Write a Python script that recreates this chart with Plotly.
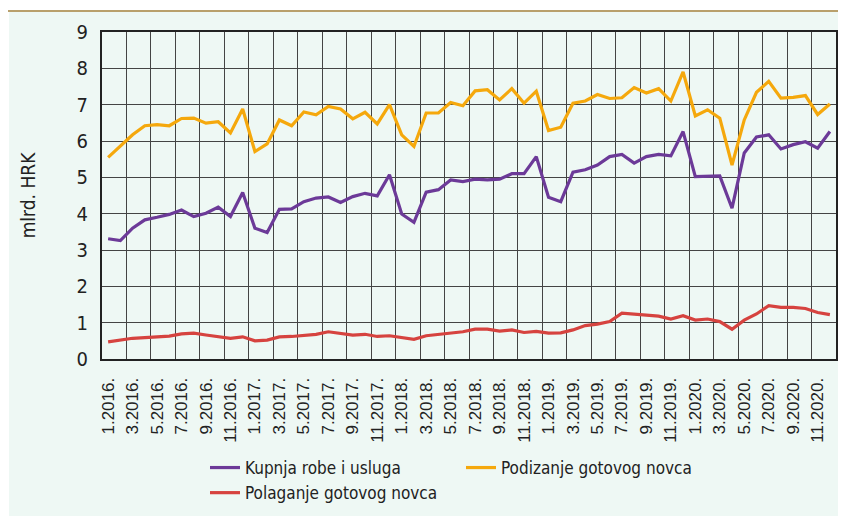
import plotly.graph_objects as go

# Monthly periods 1.2016. - 12.2020.
periods = [f"{m}.{y}." for y in range(2016, 2021) for m in range(1, 13)]
tick_labels = ["1.2016.", "3.2016.", "5.2016.", "7.2016.", "9.2016.", "11.2016.",
               "1.2017.", "3.2017.", "5.2017.", "7.2017.", "9.2017.", "11.2017.",
               "1.2018.", "3.2018.", "5.2018.", "7.2018.", "9.2018.", "11.2018.",
               "1.2019.", "3.2019.", "5.2019.", "7.2019.", "9.2019.", "11.2019.",
               "1.2020.", "3.2020.", "5.2020.", "7.2020.", "9.2020.", "11.2020."]

kupnja = [3.31, 3.26, 3.60, 3.83, 3.90, 3.98, 4.10, 3.92, 4.01, 4.18, 3.92, 4.58,
          3.60, 3.48, 4.12, 4.13, 4.33, 4.43, 4.46, 4.31, 4.47, 4.56, 4.49, 5.07,
          3.99, 3.76, 4.59, 4.66, 4.93, 4.88, 4.95, 4.93, 4.95, 5.10, 5.10, 5.57,
          4.45, 4.33, 5.14, 5.21, 5.34, 5.57, 5.63, 5.39, 5.57, 5.63, 5.59, 6.26,
          5.02, 5.02, 5.04, 4.15, 5.67, 6.11, 6.17, 5.78, 5.90, 5.98, 5.80, 6.26]

podizanje = [5.55, 5.85, 6.17, 6.42, 6.45, 6.42, 6.62, 6.63, 6.49, 6.53, 6.22, 6.88,
             5.71, 5.92, 6.58, 6.42, 6.80, 6.72, 6.95, 6.88, 6.61, 6.79, 6.47, 7.00,
             6.17, 5.85, 6.77, 6.77, 7.06, 6.97, 7.38, 7.41, 7.13, 7.44, 7.04, 7.37,
             6.29, 6.38, 7.04, 7.10, 7.28, 7.17, 7.19, 7.47, 7.32, 7.44, 7.10, 7.90,
             6.69, 6.86, 6.63, 5.34, 6.58, 7.34, 7.64, 7.18, 7.20, 7.25, 6.73, 7.02]

polaganje = [0.47, 0.52, 0.57, 0.59, 0.61, 0.63, 0.69, 0.71, 0.66, 0.61, 0.57, 0.61,
             0.50, 0.52, 0.61, 0.62, 0.66, 0.68, 0.75, 0.71, 0.66, 0.68, 0.62, 0.64,
             0.59, 0.54, 0.64, 0.68, 0.72, 0.75, 0.82, 0.82, 0.77, 0.80, 0.73, 0.76,
             0.71, 0.72, 0.80, 0.92, 0.96, 1.03, 1.26, 1.23, 1.20, 1.18, 1.10, 1.19,
             1.07, 1.10, 1.03, 0.82, 1.07, 1.24, 1.47, 1.42, 1.42, 1.39, 1.28, 1.22]

series_names = ["Kupnja robe i usluga", "Podizanje gotovog novca", "Polaganje gotovog novca"]

x = list(range(len(periods)))
tick_pos = [i for i, p in enumerate(periods) if p in tick_labels]

MINT = "#EEF8F4"
NARROW = "Liberation Sans Narrow, Arial Narrow, DejaVu Sans Condensed, sans-serif"
REG = "Liberation Sans, Arial, sans-serif"

fig = go.Figure()
for name, vals, col in [(series_names[0], kupnja, "#6C3A98"),
                        (series_names[1], podizanje, "#F5A80C"),
                        (series_names[2], polaganje, "#D6433F")]:
    fig.add_trace(go.Scatter(x=x, y=vals, name=name, mode="lines",
                             line=dict(color=col, width=3.2),
                             customdata=periods, hovertemplate="%{customdata}: %{y}<extra></extra>"))

# The page body keeps its default 8px margin, so the figure is drawn 8px in.
OFF = 8
W, H = 846 - OFF, 516 - OFF
L, R, T, B = 102 - OFF, 10, 32 - OFF, 157
pw, ph = W - L - R, H - T - B

def px_x(p):  # screen px -> paper coordinate
    return (p - OFF - L) / pw

def px_y(p):
    return (H - B - (p - OFF)) / ph

shapes = [
    dict(type="rect", xref="paper", yref="paper", x0=px_x(9), x1=px_x(850),
         y0=px_y(520), y1=px_y(12), fillcolor=MINT, line_width=0, layer="below"),
    dict(type="line", xref="paper", yref="paper", x0=px_x(6), x1=px_x(850),
         y0=px_y(11), y1=px_y(11), line=dict(color="#B9A06C", width=2)),
]

fig.update_layout(
    width=W, height=H,
    margin=dict(l=L, r=R, t=T, b=B, autoexpand=False),
    paper_bgcolor="white",
    plot_bgcolor=MINT,
    shapes=shapes,
    showlegend=True,
    legend=dict(orientation="h", x=px_x(205), xanchor="left", y=px_y(450), yanchor="top",
                font=dict(family=NARROW, size=17, color="#222"),
                entrywidth=211, entrywidthmode="pixels", tracegroupgap=0,
                bgcolor="rgba(0,0,0,0)", itemwidth=30),
    xaxis=dict(range=[-0.5, len(periods) - 0.5], tickmode="array", tickvals=tick_pos,
               ticktext=tick_labels, tickangle=-90, showgrid=False,
               tickfont=dict(family=REG, size=17, color="#222"), ticks="",
               ticklabelstandoff=10,
               showline=True, linecolor="#222", linewidth=2, mirror=True,
               minor=dict(tick0=-0.5, dtick=2, showgrid=True, gridcolor="#444",
                          gridwidth=1, ticks=""),
               zeroline=False, fixedrange=True),
    yaxis=dict(range=[0, 9], dtick=1, tick0=0, showgrid=True, gridcolor="#444", gridwidth=1,
               tickfont=dict(family=NARROW, size=20, color="#222"), ticks="",
               ticklabelstandoff=8,
               showline=True, linecolor="#222", linewidth=2, mirror=True,
               title=dict(text="mlrd. HRK", font=dict(family=NARROW, size=19, color="#222"),
                          standoff=36),
               zeroline=False, fixedrange=True),
)

fig.write_html("out.html")
